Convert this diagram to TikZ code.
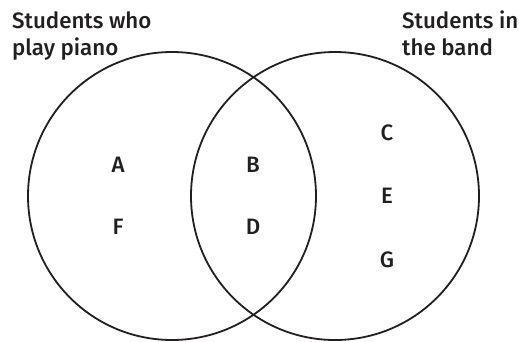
\documentclass[tikz,border=0pt]{standalone}
\usepackage{fontspec}
\setmainfont{Fira Sans Medium}
\definecolor{ink}{HTML}{231F20}

\begin{document}
\begin{tikzpicture}
          [x=1pt, y=-1pt, every node/.style={inner sep=0, text=ink, font=\fontsize{22.3}{27}\selectfont},
           set/.style={draw=ink, line width=1.8pt, shape=circle, minimum size=288pt}]

          \useasboundingbox (0,0) rectangle (519,341);

          \node[set] (piano) at (172, 196) {};
          \node[set] (band) at (335, 196) {};

          \node[anchor=base west, align=left] (pianolabel) at (12, 55) {Students who\\play piano};
          \node[anchor=base west, align=left] (bandlabel) at (402, 55) {Students in\\the band};

          \node (a) at (118, 165) {A};
          \node (f) at (118, 227) {F};
          \node (b) at (253, 165) {B};
          \node (d) at (253, 227) {D};
          \node (c) at (387, 133) {C};
          \node (e) at (387, 196) {E};
          \node (g) at (387, 260) {G};

        \end{tikzpicture}
\end{document}
